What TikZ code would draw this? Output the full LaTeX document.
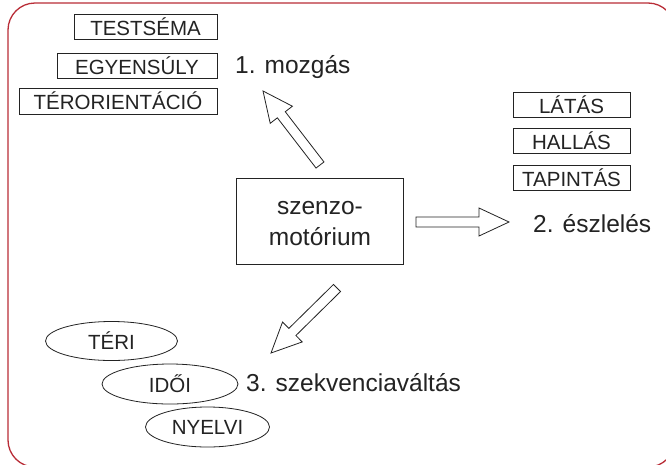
\documentclass[tikz,border=0pt]{standalone}
\usepackage{fontspec}
\setmainfont{Liberation Sans}
\usetikzlibrary{shapes.geometric,calc}
\definecolor{framered}{RGB}{185,45,55}
\definecolor{ink}{RGB}{35,35,35}
\newcommand\blockarr[2]{%
  \coordinate (neck) at ($(#2)!30pt!(#1)$);
  \draw[arrowline] ($(#1)!5pt!90:(#2)$) -- ($(neck)!5pt!90:(#2)$) -- ($(neck)!14pt!90:(#2)$) -- (#2)
    -- ($(neck)!14pt!-90:(#2)$) -- ($(neck)!5pt!-90:(#2)$) -- ($(#1)!5pt!-90:(#2)$) -- cycle;}
\begin{document}
\begin{tikzpicture}[x=1pt,y=-1pt,
  lbox/.style={draw=ink, line width=0.8pt, inner sep=0pt, minimum height=25pt,
    text=ink, font=\fontsize{20.5}{24}\selectfont},
  ell/.style={draw=ink, line width=0.8pt, ellipse, inner sep=0pt,
    text=ink, font=\fontsize{20.5}{24}\selectfont},
  big/.style={text=ink, inner sep=0pt, font=\fontsize{24.5}{30}\selectfont},
  arrowline/.style={draw=ink, line width=0.8pt, fill=white, line join=miter}]
\useasboundingbox (0,0) rectangle (666,464);
\clip (0,0) rectangle (666,464);
\fill[white] (0,0) rectangle (666,464);
\draw[framered, line width=1.3pt, rounded corners=27pt] (8,3) rectangle (675,467);

% left boxes
\node[lbox, minimum width=143pt] (testsema) at (145.5,26.5) {TESTSÉMA};
\node[lbox, minimum width=160pt] (egyensuly) at (137,65.5) {EGYENSÚLY};
\node[lbox, minimum width=198pt, minimum height=26pt] (terorient) at (118,101) {TÉRORIENTÁCIÓ};

% right boxes
\node[lbox, minimum width=117pt] (latas) at (571.5,104.5) {LÁTÁS};
\node[lbox, minimum width=117pt] (hallas) at (571.5,141) {HALLÁS};
\node[lbox, minimum width=117pt] (tapintas) at (571.5,178) {TAPINTÁS};

% ellipses
\node[ell, minimum width=132pt, minimum height=39pt] (teri) at (111.5,341) {TÉRI};
\node[ell, minimum width=136pt, minimum height=40pt] (idoi) at (170,384) {IDŐI};
\node[ell, minimum width=124pt, minimum height=40pt] (nyelvi) at (207.5,427) {NYELVI};

% central box
\node[draw=ink, line width=0.8pt, minimum width=167pt, minimum height=86pt, inner sep=0pt] (center) at (319.5,221) {};
\node[align=center, text=ink, inner sep=0pt, font=\fontsize{24.5}{31}\selectfont] (centertext) at (320,224) {szenzo-\\motórium};

% labels
\node[big, anchor=base west] (mozgas) at (235,73) {1. mozgás};
\node[big, anchor=base west] (eszleles) at (533,232) {2. észlelés};
\node[big, anchor=base west] (szekv) at (246,391) {3. szekvenciaváltás};

% arrows
\coordinate (a1t) at (320,165); \coordinate (a1h) at (263,91);
\coordinate (a2t) at (416,222); \coordinate (a2h) at (509,222);
\coordinate (a3t) at (337,288); \coordinate (a3h) at (271,353);
\blockarr{a1t}{a1h}
\blockarr{a2t}{a2h}
\blockarr{a3t}{a3h}
\end{tikzpicture}
\end{document}
